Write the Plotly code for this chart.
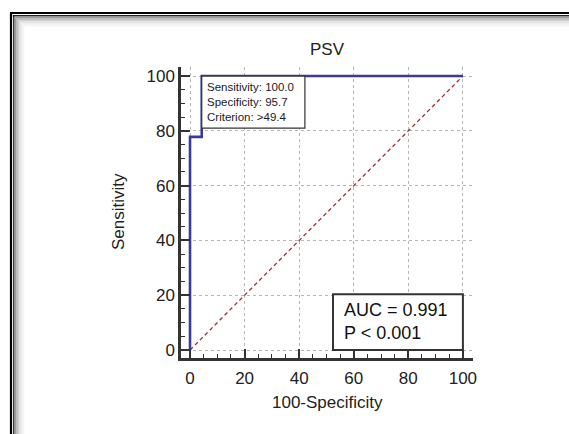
import plotly.graph_objects as go

# ---- data ----
roc_x = [0, 0, 4.3, 100]          # 100-Specificity
roc_y = [0, 77.8, 100, 100]       # Sensitivity
diag_x = [0, 100]
diag_y = [0, 100]
tick_vals = [0, 20, 40, 60, 80, 100]
tick_text = ["0", "20", "40", "60", "80", "100"]
point_text = ["Sensitivity: 100.0", "Specificity: 95.7", "Criterion: >49.4"]
stat_text = ["AUC = 0.991", "P < 0.001"]

W, H = 569, 434
L, R, T, B = 181, 96, 67, 76
PW, PH = W - L - R, H - T - B

def px(x):
    return (x - L) / PW

def py(y):
    return (H - B - y) / PH

FONT = "Liberation Sans, Arial, sans-serif"

fig = go.Figure()
fig.add_trace(go.Scatter(x=diag_x, y=diag_y, mode="lines",
                         line=dict(color="#9e2f33", width=1.3, dash="4px,3px"),
                         hoverinfo="skip", showlegend=False))
fig.add_trace(go.Scatter(x=roc_x, y=roc_y, mode="lines", line_shape="hv",
                         line=dict(color="#3a3a9e", width=2.6),
                         showlegend=False))

shapes = []
# info boxes
shapes.append(dict(type="rect", xref="x", yref="y", x0=4.3, x1=42.1, y0=81, y1=100,
                   line=dict(color="#333333", width=1.2), fillcolor="white", layer="above"))
shapes.append(dict(type="rect", xref="x", yref="y", x0=52.4, x1=100, y0=0, y1=20.4,
                   line=dict(color="#333333", width=2), fillcolor="white", layer="above"))
# frame around page (left & top double line with shadow)
for off, col, w in [(11, "#000000", 2.2), (13.8, "#222222", 1.4)]:
    shapes.append(dict(type="line", xref="paper", yref="paper",
                       x0=px(off), x1=px(off), y0=py(off + 2), y1=py(H + 5),
                       line=dict(color=col, width=w)))
    shapes.append(dict(type="line", xref="paper", yref="paper",
                       x0=px(off - 1), x1=px(W + 5), y0=py(off + 2), y1=py(off + 2),
                       line=dict(color=col, width=w)))
shade = ["#9a9a9a", "#b8b8b8", "#d0d0d0", "#e2e2e2", "#eeeeee", "#f5f5f5"]
for i, c in enumerate(shade):
    o = 15.5 + i * 1.6
    shapes.append(dict(type="line", xref="paper", yref="paper",
                       x0=px(o), x1=px(o), y0=py(o + 2), y1=py(H + 5),
                       line=dict(color=c, width=1.8)))
    shapes.append(dict(type="line", xref="paper", yref="paper",
                       x0=px(o), x1=px(W + 5), y0=py(o + 2), y1=py(o + 2),
                       line=dict(color=c, width=1.8)))

annotations = [
    dict(x=5.5, y=90.5, xref="x", yref="y", xanchor="left", yanchor="middle",
         align="left", showarrow=False, text="<br>".join(point_text),
         font=dict(family=FONT, size=11.5, color="#1a1a2a")),
    dict(x=55.7, y=10.4, xref="x", yref="y", xanchor="left", yanchor="middle",
         align="left", showarrow=False, text="<br>".join(stat_text),
         font=dict(family=FONT, size=18, color="#111111")),
    dict(x=px(327), y=py(49), xref="paper", yref="paper", xanchor="center",
         yanchor="middle", showarrow=False, text="PSV",
         font=dict(family=FONT, size=17, color="#222222")),
    dict(x=px(118), y=py(212), xref="paper", yref="paper", xanchor="center",
         yanchor="middle", showarrow=False, text="Sensitivity", textangle=-90,
         font=dict(family=FONT, size=17, color="#222222")),
    dict(x=px(327), y=py(402), xref="paper", yref="paper", xanchor="center",
         yanchor="middle", showarrow=False, text="100-Specificity",
         font=dict(family=FONT, size=17, color="#222222")),
]

axis_common = dict(
    showgrid=True, gridcolor="#b5b5b5", griddash="3px,3px", gridwidth=1,
    zeroline=False, showline=True, linecolor="#333333", linewidth=2.5,
    ticks="inside", ticklen=9, tickwidth=2, tickcolor="#333333",
    tickvals=tick_vals, ticktext=tick_text,
    tickfont=dict(family=FONT, size=17, color="#222222"),
    minor=dict(dtick=5, ticks="inside", ticklen=4, tickwidth=1.2,
               tickcolor="#333333", showgrid=False),
    fixedrange=True, automargin=False,
)

fig.update_layout(
    width=W, height=H, autosize=False,
    margin=dict(l=L, r=R, t=T, b=B, pad=0),
    paper_bgcolor="white", plot_bgcolor="white",
    xaxis=dict(range=[-3.3, 103.7], ticklabelstandoff=3, **axis_common),
    yaxis=dict(range=[-2.9, 103.3], **axis_common),
    shapes=shapes, annotations=annotations,
    showlegend=False,
)

fig.write_html(
    "out.html",
    config={"displayModeBar": False},
    post_script="document.body.style.margin='0';document.body.style.overflow='hidden';",
)
